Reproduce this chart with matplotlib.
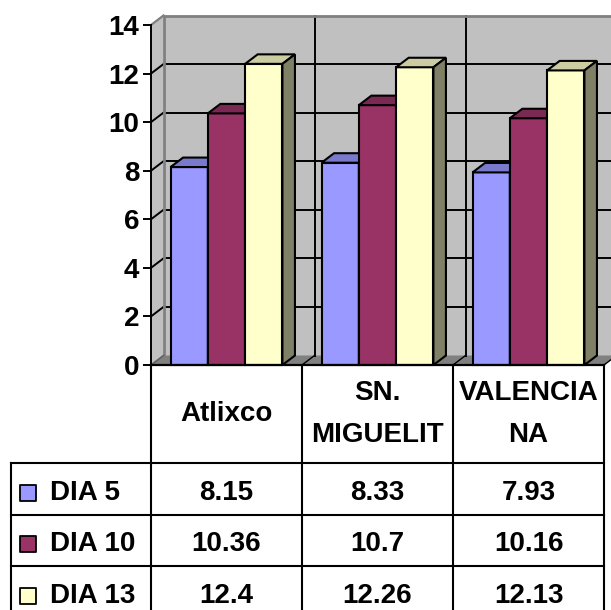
import matplotlib
matplotlib.use("Agg")
import matplotlib.pyplot as plt
from matplotlib.patches import Polygon

# ---- data ----
categories = ["Atlixco", "SN.\nMIGUELIT", "VALENCIA\nNA"]
series_names = ["DIA 5", "DIA 10", "DIA 13"]
dia5 = [8.15, 8.33, 7.93]
dia10 = [10.36, 10.7, 10.16]
dia13 = [12.4, 12.26, 12.13]
series_values = [dia5, dia10, dia13]
y_ticks = [0, 2, 4, 6, 8, 10, 12, 14]

# ---- styling ----
face_colors = ["#9999FF", "#993366", "#FFFFCC"]
WALL = "#C0C0C0"
FLOOR = "#808080"
EDGE = "#808080"
FONT = "Liberation Sans"
FS = 20

plt.rcParams["font.family"] = [FONT, "DejaVu Sans"]
plt.rcParams["font.weight"] = "bold"


def shade(hex_color, k):
    r, g, b = matplotlib.colors.to_rgb(hex_color)
    return (r * k, g * k, b * k)


W_PX, H_PX = 611, 610
fig = plt.figure(figsize=(W_PX / 100, H_PX / 100), dpi=100)
fig.patch.set_facecolor("white")

# plot area (front plane of the 3-D box)
x0, x1 = 151, 604
y_top, y_zero = 25, 365
ax = fig.add_axes([x0 / W_PX, (H_PX - y_zero) / H_PX,
                   (x1 - x0) / W_PX, (y_zero - y_top) / H_PX])
n = len(categories)
ax.set_xlim(-0.5, n - 0.5)
ax.set_ylim(0, y_ticks[-1])
ax.patch.set_visible(False)

# depth of the 3-D box, in data units
DX = 12.5 / ((x1 - x0) / n)
DY = 9.5 / ((y_zero - y_top) / y_ticks[-1])
left, right, top = -0.5, n - 0.5, y_ticks[-1]

# back wall, side wall, floor
ax.add_patch(Polygon([(left + DX, DY), (right + DX, DY), (right + DX, top + DY),
                      (left + DX, top + DY)], closed=True, fc=WALL, ec="none",
                     clip_on=False, zorder=0))
ax.add_patch(Polygon([(left, 0), (left + DX, DY), (left + DX, top + DY), (left, top)],
                     closed=True, fc=WALL, ec="none", clip_on=False, zorder=0))
ax.add_patch(Polygon([(left, 0), (right, 0), (right + DX, DY), (left + DX, DY)],
                     closed=True, fc=FLOOR, ec="none", clip_on=False, zorder=0.5))

# gridlines on walls
for v in y_ticks[1:-1]:
    ax.plot([left + DX, right + DX], [v + DY, v + DY], color="black", lw=1.4,
            clip_on=False, zorder=1, solid_capstyle="butt")
    ax.plot([left, left + DX], [v, v + DY], color="black", lw=1.4,
            clip_on=False, zorder=1)
for b in range(1, n):
    xb = b - 0.5
    ax.plot([xb + DX, xb + DX], [DY, top + DY], color="black", lw=1.4,
            clip_on=False, zorder=1)
    ax.plot([xb, xb + DX], [0, DY], color="black", lw=1.0, clip_on=False, zorder=1)
ax.plot([right, right + DX], [0, DY], color="black", lw=1.0, clip_on=False, zorder=1)

# wall outline
ax.plot([left + DX, left + DX, right + DX], [DY, top + DY, top + DY], color=EDGE,
        lw=2.0, clip_on=False, zorder=1)
ax.plot([left, left + DX], [top, top + DY], color=EDGE, lw=1.6, clip_on=False, zorder=1)
ax.plot([left, left + DX], [0, DY], color="#606060", lw=1.2, clip_on=False, zorder=1)

# 3-D columns
bw = 0.247
ns = len(series_values)
for i in range(n):
    for j in range(ns):
        v = series_values[j][i]
        xl = i - ns * bw / 2 + j * bw
        xr = xl + bw
        c = face_colors[j]
        ax.bar(xl, v, width=bw, align="edge", color=c, edgecolor="black",
               linewidth=1.5, zorder=2 + j, clip_on=False)
        ax.add_patch(Polygon([(xl, v), (xr, v), (xr + DX, v + DY), (xl + DX, v + DY)],
                             closed=True, fc=shade(c, 0.8), ec="black", lw=1.5,
                             zorder=2 + j, clip_on=False))
        ax.add_patch(Polygon([(xr, 0), (xr + DX, DY), (xr + DX, v + DY), (xr, v)],
                             closed=True, fc=shade(c, 0.5), ec="black", lw=1.5,
                             zorder=2 + j, clip_on=False))

# axes
for s in ["top", "right"]:
    ax.spines[s].set_visible(False)
ax.spines["left"].set_color("black")
ax.spines["left"].set_linewidth(1.4)
ax.spines["bottom"].set_color("black")
ax.spines["bottom"].set_linewidth(1.6)
ax.spines["left"].set_zorder(6)
ax.spines["bottom"].set_zorder(6)
ax.set_yticks(y_ticks)
ax.set_yticklabels([str(t) for t in y_ticks], fontsize=FS, fontweight="bold",
                   fontfamily=FONT)
ax.tick_params(axis="y", direction="out", length=6, width=1.4, pad=2.5)
ax.set_xticks([])

# ---- data table ----
row_px = 51.5
head = 98.0 / row_px
tab = fig.add_axes([x0 / W_PX, 0, (x1 - x0) / W_PX, (H_PX - y_zero) / H_PX])
tab.set_xlim(-0.5, n - 0.5)
tab.set_ylim((H_PX - y_zero) / row_px, 0)
tab.axis("off")
lab_left = -0.5 - (x0 - 11) / ((x1 - x0) / n)
bottom = head + ns + 0.5
lw = 1.5
for b in range(n + 1):
    tab.plot([b - 0.5, b - 0.5], [0, bottom], color="black", lw=lw, clip_on=False)
tab.plot([lab_left, lab_left], [head, bottom], color="black", lw=lw, clip_on=False)
for r in range(ns):
    yy = head + r
    tab.plot([lab_left, n - 0.5], [yy, yy], color="black", lw=lw, clip_on=False)

for i, cat in enumerate(categories):
    tab.text(i, head / 2, cat, ha="center", va="center", fontsize=FS,
             fontweight="bold", linespacing=1.8, fontfamily=FONT)

for j, name in enumerate(series_names):
    yc = head + j + 0.5 + 0.08
    tab.scatter([lab_left + 0.115], [yc], marker="s", s=118,
                color=face_colors[j], edgecolors="black", linewidths=1.3,
                clip_on=False, zorder=3)
    tab.text(lab_left + 0.255, yc, name, ha="left", va="center", fontsize=FS,
             fontweight="bold", fontfamily=FONT)
    for i in range(n):
        tab.text(i, yc, f"{series_values[j][i]:g}", ha="center", va="center",
                 fontsize=FS, fontweight="bold", fontfamily=FONT)

fig.savefig("out.png", dpi=100, facecolor="white")
